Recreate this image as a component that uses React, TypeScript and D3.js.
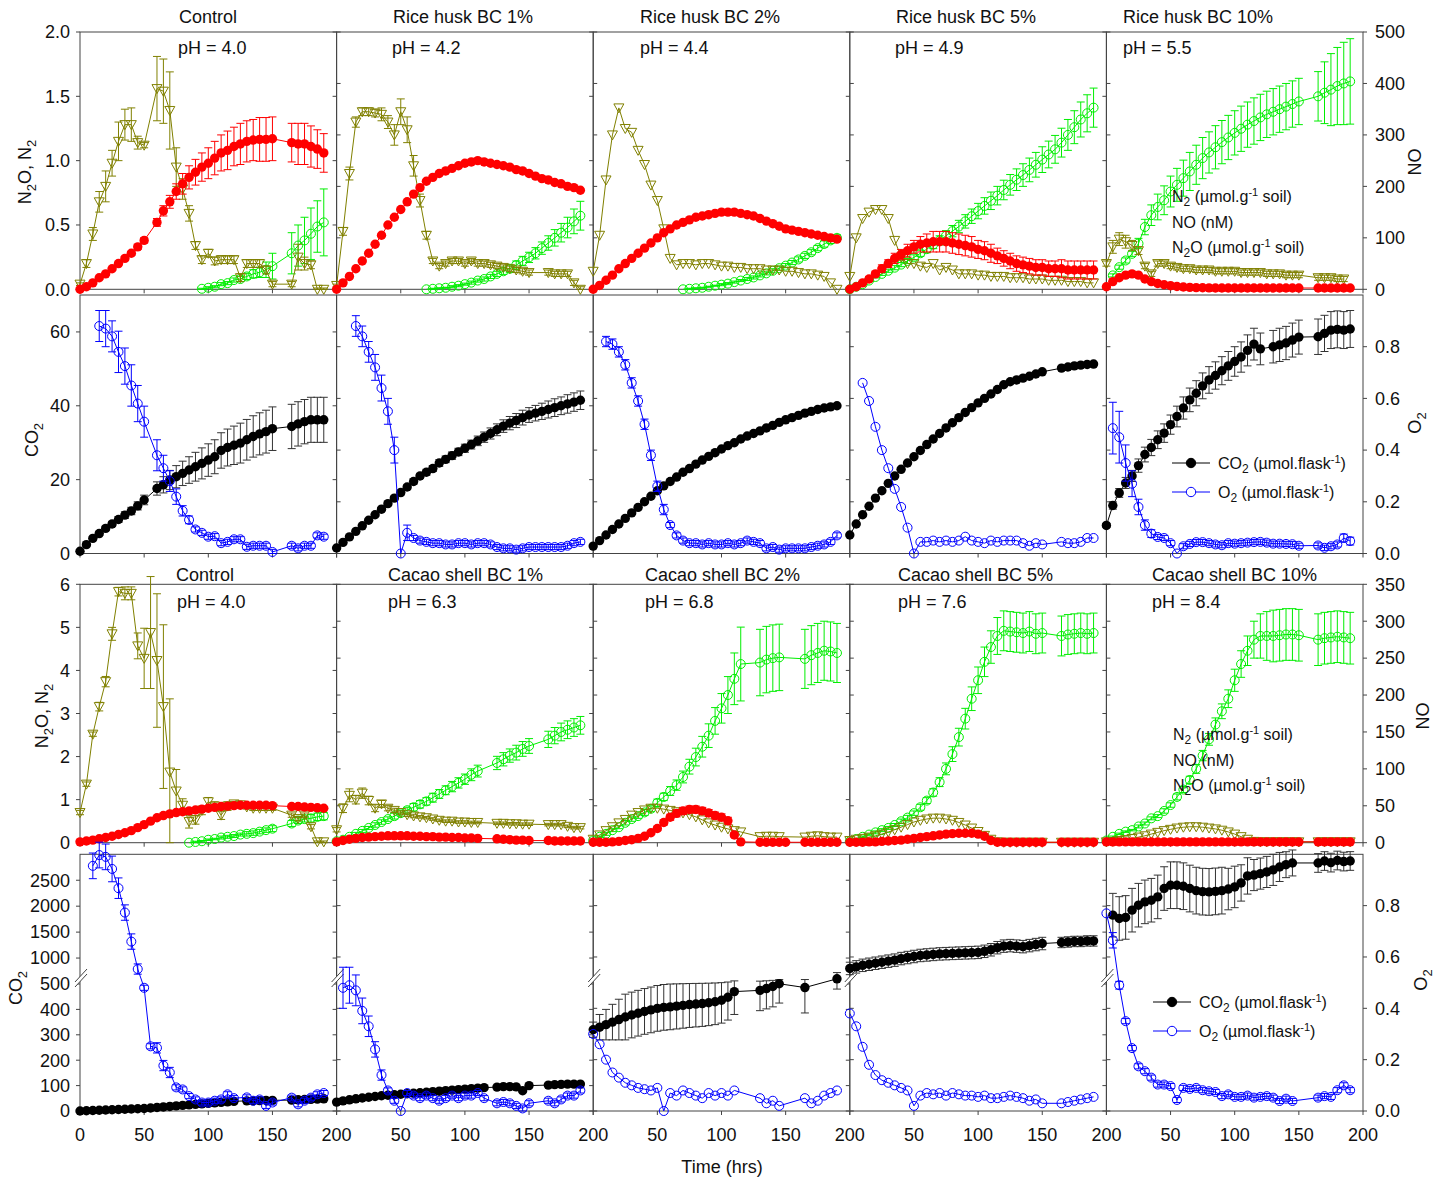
import * as d3 from "d3";

type V = number | null;
const n = null;

const hours = [0, 5, 10, 15, 20, 25, 30, 35, 40, 45, 50, 55, 60, 65, 70, 75, 80, 85, 90, 95, 100, 105, 110, 115, 120, 125, 130, 135, 140, 145, 150, 155, 160, 165, 170, 175, 180, 185, 190];

const riceTitles = ["Control", "Rice husk BC 1%", "Rice husk BC 2%", "Rice husk BC 5%", "Rice husk BC 10%"];
const ricePH = ["4.0", "4.2", "4.4", "4.9", "5.5"];
const cacaoTitles = ["Control", "Cacao shell BC 1%", "Cacao shell BC 2%", "Cacao shell BC 5%", "Cacao shell BC 10%"];
const cacaoPH = ["4.0", "6.3", "6.8", "7.6", "8.4"];

// ---- rice husk: N2 / N2O (umol g-1 soil), NO (nM)
const riceN2: V[][] = [
  [0, 0.02, 0.05, 0.09, 0.12, 0.16, 0.2, 0.24, 0.28, 0.33, 0.38, n, 0.52, 0.61, 0.68, 0.76, 0.82, 0.87, 0.91, 0.95, 0.98, 1.02, 1.06, 1.08, 1.11, 1.13, 1.15, 1.16, 1.165, 1.165, 1.17, n, n, 1.14, 1.13, 1.13, 1.11, 1.09, 1.06],
  [0, 0.05, 0.1, 0.16, 0.22, 0.28, 0.35, 0.42, 0.5, 0.56, 0.62, 0.68, 0.74, 0.79, 0.84, 0.87, 0.9, 0.92, 0.94, 0.96, 0.98, 0.99, 1.0, 0.99, 0.98, 0.97, 0.96, 0.95, 0.93, 0.92, 0.9, 0.88, 0.86, 0.85, 0.83, 0.82, 0.8, 0.79, 0.77],
  [0, 0.03, 0.07, 0.11, 0.16, 0.2, 0.24, 0.28, 0.32, 0.36, 0.4, 0.44, 0.47, 0.5, 0.52, 0.54, 0.56, 0.57, 0.58, 0.59, 0.6, 0.6, 0.6, 0.59, 0.58, 0.57, 0.55, 0.53, 0.51, 0.49, 0.47, 0.46, 0.45, 0.44, 0.43, 0.42, 0.41, 0.4, 0.39],
  [0, 0.02, 0.05, 0.08, 0.12, 0.16, 0.2, 0.24, 0.27, 0.3, 0.33, 0.35, 0.36, 0.37, 0.37, 0.37, 0.36, 0.35, 0.34, 0.33, 0.31, 0.3, 0.28, 0.26, 0.24, 0.22, 0.2, 0.19, 0.18, 0.17, 0.17, 0.16, 0.16, 0.16, 0.15, 0.15, 0.15, 0.15, 0.15],
  [0.02, 0.06, 0.09, 0.11, 0.12, 0.11, 0.08, 0.06, 0.045, 0.035, 0.028, 0.022, 0.018, 0.015, 0.013, 0.012, 0.011, 0.01, 0.01, 0.01, 0.01, 0.01, 0.01, 0.01, 0.01, 0.01, 0.01, 0.01, 0.01, 0.01, 0.01, n, n, 0.01, 0.01, 0.01, 0.01, 0.01, 0.01],
];
const riceN2Err: (V[] | null)[] = [
  [0.01, 0.01, 0.01, 0.01, 0.01, 0.01, 0.01, 0.015, 0.015, 0.02, 0.02, n, 0.03, 0.04, 0.05, 0.06, 0.08, 0.09, 0.1, 0.11, 0.12, 0.13, 0.14, 0.15, 0.15, 0.16, 0.16, 0.16, 0.17, 0.17, 0.17, n, n, 0.15, 0.16, 0.16, 0.16, 0.15, 0.15],
  null,
  null,
  [0, 0.01, 0.01, 0.02, 0.02, 0.03, 0.03, 0.04, 0.04, 0.05, 0.05, 0.06, 0.07, 0.08, 0.08, 0.08, 0.08, 0.08, 0.08, 0.08, 0.07, 0.07, 0.07, 0.06, 0.06, 0.06, 0.06, 0.06, 0.06, 0.06, 0.06, 0.06, 0.06, 0.07, 0.07, 0.07, 0.07, 0.07, 0.07],
  null,
];
const riceN2O: V[][] = [
  [0.04, 0.2, 0.43, 0.68, 0.8, 0.98, 1.15, 1.28, 1.28, 1.14, 1.12, n, 1.56, 1.54, 1.39, 0.95, 0.78, 0.59, 0.34, 0.23, 0.28, 0.22, 0.23, 0.23, 0.23, 0.09, 0.2, 0.2, 0.2, 0.15, 0.04, n, n, 0.04, 0.25, 0.2, 0.19, 0, 0],
  [0.03, 0.45, 0.9, 1.3, 1.38, 1.38, 1.37, 1.36, 1.3, 1.2, 1.38, 1.24, 0.96, 0.69, 0.42, 0.22, 0.18, 0.2, 0.22, 0.22, 0.2, 0.22, 0.2, 0.2, 0.19, 0.18, 0.17, 0.16, 0.15, 0.14, 0.13, n, n, 0.13, 0.12, 0.12, 0.12, 0.05, 0],
  [0.14, 0.42, 0.85, 1.2, 1.41, 1.25, 1.22, 1.08, 0.97, 0.81, 0.69, 0.47, 0.24, 0.19, 0.2, 0.2, 0.19, 0.2, 0.2, 0.19, 0.18, 0.18, 0.17, 0.17, 0.16, 0.16, 0.16, 0.15, 0.15, 0.15, 0.14, 0.14, 0.13, 0.12, 0.12, 0.11, 0.1, 0.05, 0],
  [0.1, 0.4, 0.55, 0.6, 0.62, 0.62, 0.55, 0.38, 0.25, 0.2, 0.2, 0.18, 0.17, 0.2, 0.15, 0.17, 0.15, 0.12, 0.12, 0.12, 0.11, 0.11, 0.1, 0.1, 0.1, 0.09, 0.09, 0.09, 0.08, 0.08, 0.08, 0.07, 0.07, 0.07, 0.06, 0.06, 0.06, 0.05, 0.05],
  [0.2, 0.33, 0.39, 0.37, 0.34, 0.3, 0.18, 0.12, 0.2, 0.2, 0.18, 0.17, 0.16, 0.16, 0.15, 0.15, 0.15, 0.14, 0.14, 0.14, 0.14, 0.13, 0.13, 0.13, 0.13, 0.12, 0.12, 0.12, 0.11, 0.11, 0.11, n, n, 0.09, 0.09, 0.09, 0.08, 0.08, n],
];
const riceN2OErr: (V[] | null)[] = [
  [0.01, 0.03, 0.05, 0.08, 0.12, 0.1, 0.15, 0.12, 0.13, 0.05, 0.02, n, 0.25, 0.25, 0.3, 0.15, 0.08, 0.06, 0.03, 0.03, 0.03, 0.03, 0.03, 0.03, 0.03, 0.03, 0.03, 0.03, 0.03, 0.03, 0.02, n, n, 0.02, 0.1, 0.05, 0.03, 0.01, 0.01],
  [0.01, 0.03, 0.05, 0.04, 0.03, 0.03, 0.03, 0.05, 0.05, 0.08, 0.1, 0.1, 0.08, 0.05, 0.03, 0.02, 0.02, 0.02, 0.02, 0.02, 0.02, 0.02, 0.02, 0.02, 0.02, 0.02, 0.02, 0.02, 0.02, 0.02, 0.02, n, n, 0.02, 0.02, 0.02, 0.02, 0.02, 0.02],
  null,
  null,
  [0.02, 0.05, 0.05, 0.05, 0.04, 0.03, 0.02, 0.02, 0.02, 0.02, 0.02, 0.02, 0.02, 0.02, 0.02, 0.02, 0.02, 0.02, 0.02, 0.02, 0.02, 0.02, 0.02, 0.02, 0.02, 0.02, 0.02, 0.02, 0.02, 0.02, 0.02, n, n, 0.02, 0.02, 0.02, 0.02, 0.02, n],
];
const riceNO: V[][] = [
  [n, n, n, n, n, n, n, n, n, n, n, n, n, n, n, n, n, n, n, 1, 3, 5, 10, 12, 18, 20, 25, 30, 33, 38, 45, n, n, 70, 85, 95, 108, 122, 130],
  [n, n, n, n, n, n, n, n, n, n, n, n, n, n, 0, 1, 2, 3, 5, 7, 10, 13, 17, 20, 25, 30, 35, 40, 47, 55, 62, 70, 80, 90, 100, 110, 120, 132, 143],
  [n, n, n, n, n, n, n, n, n, n, n, n, n, n, 0, 1, 2, 3, 5, 7, 9, 11, 14, 17, 20, 23, 27, 31, 36, 41, 46, 52, 58, 65, 72, 80, 88, 95, 100],
  [0, 5, 10, 17, 24, 30, 36, 42, 48, 55, 62, 70, 78, 87, 95, 104, 113, 122, 132, 142, 152, 162, 172, 182, 193, 203, 213, 222, 232, 242, 252, 262, 272, 285, 300, 315, 330, 342, 353],
  [n, 27, 43, 56, 69, 89, 121, 144, 160, 173, 190, 203, 216, 229, 242, 255, 266, 276, 286, 295, 304, 312, 320, 327, 334, 340, 345, 350, 355, 360, 365, n, n, 375, 382, 388, 395, 400, 404],
];
const riceNOErr: (V[] | null)[] = [
  [n, n, n, n, n, n, n, n, n, n, n, n, n, n, n, n, n, n, n, 1, 2, 2, 3, 3, 4, 5, 6, 8, 10, 15, 25, n, n, 40, 40, 45, 50, 50, 65],
  [n, n, n, n, n, n, n, n, n, n, n, n, n, n, 0, 1, 1, 1, 2, 2, 2, 3, 3, 4, 4, 5, 6, 7, 8, 9, 10, 11, 12, 14, 16, 18, 20, 24, 28],
  [n, n, n, n, n, n, n, n, n, n, n, n, n, n, 0, 1, 1, 1, 1, 1, 2, 2, 2, 2, 3, 3, 3, 3, 4, 4, 4, 4, 5, 5, 5, 5, 6, 6, 6],
  [0, 1, 1, 2, 2, 3, 3, 4, 4, 5, 5, 6, 7, 8, 9, 10, 11, 12, 13, 14, 15, 16, 17, 18, 19, 20, 21, 22, 23, 24, 25, 26, 27, 28, 30, 32, 34, 36, 38],
  [n, 3, 4, 5, 5, 10, 15, 20, 25, 28, 30, 32, 35, 37, 38, 40, 40, 42, 42, 43, 43, 44, 44, 45, 45, 45, 45, 45, 45, 45, 45, n, n, 48, 60, 70, 75, 80, 83],
];

// ---- rice husk: CO2 / O2 (umol flask-1)
const riceCO2: V[][] = [
  [0.6, 2.4, 4.1, 5.4, 6.8, 8, 9.2, 10.4, 11.5, 12.9, 14.5, n, 17.6, 18.6, 19.9, 20.8, 21.7, 22.6, 23.5, 24.4, 25.3, 26.2, 27.9, 28.7, 29.3, 29.9, 30.8, 31.7, 32.4, 33, 33.8, n, n, 34.4, 35.1, 35.7, 36.2, 36.2, 36.2],
  [1.5, 3, 4.5, 6, 7.5, 9, 10.5, 12, 13.5, 15, 16.5, 18, 19.5, 21, 22, 23, 24.5, 25.5, 26.5, 27.5, 28.5, 29.5, 30.5, 31.5, 32.5, 33.5, 34.5, 35.3, 36, 36.8, 37.5, 38, 38.5, 39, 39.5, 40, 40.5, 41, 41.5],
  [2, 3.5, 5, 6.5, 8, 9.5, 11, 12.5, 14, 15.5, 17, 18.3, 19.5, 20.7, 22, 23, 24.2, 25.3, 26.3, 27.3, 28.3, 29.2, 30, 31, 31.8, 32.5, 33.2, 34, 34.7, 35.5, 36.2, 36.8, 37.4, 38, 38.5, 39, 39.4, 39.7, 40],
  [5, 8, 10.5, 12.8, 15, 17, 19, 21, 22.8, 24.5, 26.2, 27.9, 29.5, 31, 32.5, 34, 35.4, 36.8, 38.2, 39.5, 40.8, 42, 43.2, 44.4, 45.7, 46.5, 47, 47.5, 48, 48.6, 49.2, n, n, 50.2, 50.5, 50.8, 51, 51.2, 51.3],
  [7.6, 13, 16.4, 19.1, 21, 23.8, 26.8, 28.7, 30.8, 32.6, 34.9, 37.1, 39.4, 41.6, 43.4, 45.4, 47, 48.2, 49.5, 50.8, 52, 53.2, 55, 56.7, 55.4, n, 56, 56.5, 57, 57.8, 58.6, n, n, 58.7, 59.6, 60.5, 60.7, 60.5, 60.8],
];
const riceCO2Err: (V[] | null)[] = [
  [0.2, 0.3, 0.4, 0.5, 0.6, 0.7, 0.8, 0.9, 1, 1.1, 1.3, n, 1.8, 2.2, 2.6, 3, 3.3, 3.6, 3.9, 4.2, 4.4, 4.6, 4.8, 5, 5.2, 5.4, 5.5, 5.6, 5.7, 5.8, 5.9, n, n, 6, 6, 6, 6.1, 6.1, 6.1],
  [0.1, 0.1, 0.2, 0.2, 0.3, 0.3, 0.4, 0.4, 0.5, 0.5, 0.6, 0.6, 0.7, 0.7, 0.8, 0.8, 0.9, 0.9, 1, 1, 1.1, 1.2, 1.3, 1.4, 1.5, 1.6, 1.7, 1.8, 1.9, 2, 2, 2.1, 2.2, 2.3, 2.4, 2.4, 2.5, 2.5, 2.5],
  null,
  null,
  [0.5, 1, 1.2, 1.5, 1.5, 1.8, 2, 2.2, 2.4, 2.5, 2.6, 2.8, 3, 3.2, 3.4, 3.5, 3.6, 3.7, 3.8, 3.9, 4, 4.1, 4.2, 4.3, 4.3, n, 4.4, 4.5, 4.5, 4.6, 4.6, n, n, 4.8, 4.9, 5, 5, 5, 5],
];
const riceO2: V[][] = [
  [n, n, n, 0.88, 0.87, 0.84, 0.78, 0.725, 0.65, 0.58, 0.51, n, 0.38, 0.33, 0.28, 0.22, 0.165, 0.13, 0.093, 0.08, 0.065, 0.067, 0.04, 0.045, 0.055, 0.055, 0.026, 0.03, 0.03, 0.03, 0.006, n, n, 0.03, 0.02, 0.03, 0.03, 0.07, 0.065],
  [n, n, n, 0.88, 0.84, 0.78, 0.72, 0.64, 0.55, 0.4, 0, 0.08, 0.06, 0.05, 0.045, 0.04, 0.04, 0.035, 0.035, 0.04, 0.04, 0.035, 0.04, 0.04, 0.035, 0.025, 0.02, 0.02, 0.015, 0.02, 0.025, 0.025, 0.025, 0.025, 0.025, 0.025, 0.03, 0.04, 0.045],
  [n, n, 0.82, 0.81, 0.78, 0.73, 0.66, 0.59, 0.5, 0.38, 0.26, 0.17, 0.11, 0.07, 0.05, 0.04, 0.04, 0.035, 0.04, 0.035, 0.035, 0.04, 0.035, 0.04, 0.05, 0.045, 0.04, 0.02, 0.025, 0.015, 0.02, 0.02, 0.02, 0.02, 0.025, 0.03, 0.035, 0.045, 0.07],
  [n, n, 0.66, 0.59, 0.49, 0.4, 0.33, 0.25, 0.18, 0.1, 0, 0.045, 0.045, 0.05, 0.045, 0.05, 0.045, 0.05, 0.065, 0.05, 0.045, 0.04, 0.05, 0.045, 0.05, 0.05, 0.05, 0.04, 0.03, 0.04, 0.035, n, n, 0.045, 0.04, 0.04, 0.045, 0.06, 0.06],
  [n, 0.485, 0.45, 0.35, 0.27, 0.18, 0.11, 0.077, 0.064, 0.06, 0.04, 0, 0.028, 0.037, 0.044, 0.044, 0.04, 0.035, 0.032, 0.04, 0.038, 0.04, 0.042, 0.044, 0.045, 0.042, 0.038, 0.038, 0.037, 0.036, 0.03, n, n, 0.031, 0.022, 0.028, 0.035, 0.06, 0.048],
];
const riceO2Err: (V[] | null)[] = [
  [n, n, n, 0.06, 0.07, 0.06, 0.08, 0.07, 0.08, 0.07, 0.06, n, 0.06, 0.05, 0.04, 0.03, 0.02, 0.015, 0.01, 0.01, 0.01, 0.01, 0.01, 0.01, 0.01, 0.01, 0.01, 0.01, 0.01, 0.01, 0.01, n, n, 0.01, 0.01, 0.01, 0.01, 0.01, 0.01],
  [n, n, n, 0.04, 0.04, 0.04, 0.05, 0.05, 0.05, 0.05, 0, 0.03, 0.01, 0.01, 0.01, 0.01, 0.01, 0.01, 0.01, 0.01, 0.01, 0.01, 0.01, 0.01, 0.01, 0.01, 0.01, 0.01, 0.01, 0.01, 0.01, 0.01, 0.01, 0.01, 0.01, 0.01, 0.01, 0.01, 0.01],
  [n, n, 0.02, 0.02, 0.02, 0.02, 0.02, 0.02, 0.02, 0.02, 0.02, 0.02, 0.01, 0.01, 0.01, 0.01, 0.01, 0.01, 0.01, 0.01, 0.01, 0.01, 0.01, 0.01, 0.01, 0.01, 0.01, 0.01, 0.01, 0.01, 0.01, 0.01, 0.01, 0.01, 0.01, 0.01, 0.01, 0.01, 0.01],
  null,
  [n, 0.1, 0.1, 0.07, 0.05, 0.03, 0.02, 0.015, 0.01, 0.01, 0.01, 0, 0.01, 0.01, 0.01, 0.01, 0.01, 0.01, 0.01, 0.01, 0.01, 0.01, 0.01, 0.01, 0.01, 0.01, 0.01, 0.01, 0.01, 0.01, 0.01, n, n, 0.01, 0.01, 0.01, 0.01, 0.015, 0.015],
];

// ---- cacao shell: N2 / N2O (umol g-1 soil), NO (nM)
const cacaoN2: V[][] = [
  [0.02, 0.04, 0.06, 0.09, 0.12, 0.15, 0.19, 0.23, 0.28, 0.35, 0.42, 0.5, 0.58, 0.63, 0.67, 0.7, 0.72, 0.74, 0.76, 0.78, 0.8, 0.82, 0.84, 0.85, 0.86, 0.87, 0.87, 0.87, 0.87, 0.87, 0.86, n, n, 0.84, 0.84, 0.83, 0.82, 0.81, 0.8],
  [0.02, 0.05, 0.08, 0.1, 0.12, 0.13, 0.14, 0.15, 0.16, 0.16, 0.16, 0.16, 0.15, 0.15, 0.14, 0.14, 0.13, 0.13, 0.12, 0.12, 0.11, 0.11, 0.1, n, n, 0.09, 0.08, 0.07, 0.06, 0.06, 0.05, n, n, 0.05, 0.04, 0.04, 0.04, 0.04, 0.04],
  [0.01, 0.01, 0.01, 0.02, 0.03, 0.05, 0.07, 0.1, 0.15, 0.23, 0.33, 0.47, 0.59, 0.68, 0.74, 0.77, 0.77, 0.74, 0.69, 0.63, 0.59, 0.51, 0.18, 0.02, n, n, 0.01, 0.01, 0.01, 0.01, 0.01, n, n, 0.01, 0.01, 0.01, 0.01, 0.01, 0.01],
  [0.01, 0.01, 0.01, 0.02, 0.02, 0.03, 0.04, 0.05, 0.06, 0.08, 0.1, 0.12, 0.14, 0.16, 0.18, 0.2, 0.21, 0.22, 0.22, 0.22, 0.2, 0.15, 0.05, 0.01, 0.01, 0.01, 0.01, 0.01, 0.01, 0.01, 0.01, n, n, 0.01, 0.01, 0.01, 0.01, 0.01, 0.01],
  [0.02, 0.02, 0.02, 0.02, 0.02, 0.02, 0.02, 0.02, 0.02, 0.02, 0.02, 0.02, 0.02, 0.02, 0.02, 0.02, 0.02, 0.02, 0.02, 0.02, 0.02, 0.02, 0.02, 0.02, 0.02, 0.02, 0.02, 0.02, 0.02, 0.02, 0.02, n, n, 0.02, 0.02, 0.02, 0.02, 0.02, 0.02],
];
const cacaoN2Err: (V[] | null)[] = [
  null,
  null,
  [0, 0, 0, 0, 0.01, 0.01, 0.02, 0.02, 0.03, 0.04, 0.05, 0.06, 0.07, 0.08, 0.08, 0.08, 0.08, 0.08, 0.08, 0.08, 0.08, 0.08, 0.05, 0.01, n, n, 0, 0, 0, 0, 0, n, n, 0, 0, 0, 0, 0, 0],
  [0, 0, 0, 0, 0, 0, 0, 0, 0.01, 0.01, 0.01, 0.01, 0.02, 0.02, 0.02, 0.02, 0.03, 0.03, 0.03, 0.03, 0.03, 0.02, 0.01, 0, 0, 0, 0, 0, 0, 0, 0, n, n, 0, 0, 0, 0, 0, 0],
  null,
];
const cacaoN2O: V[][] = [
  [0.7, 1.36, 2.52, 3.16, 3.74, 4.85, 5.83, 5.79, 5.79, 4.57, 4.28, 4.88, 4.23, 3.16, 1.64, 1.2, 0.87, 0.49, 0.53, 0.75, 0.95, 0.85, 0.64, 0.85, 0.9, 0.88, 0.83, 0.8, 0.8, 0.8, 0.8, n, n, 0.64, 0.56, 0.64, 0.37, 0.02, 0.02],
  [0.3, 0.8, 1.1, 1.0, 1.15, 0.98, 0.8, 0.9, 0.8, 0.75, 0.7, 0.65, 0.62, 0.6, 0.58, 0.55, 0.52, 0.5, 0.5, 0.48, 0.48, 0.47, 0.47, n, n, 0.45, 0.45, 0.44, 0.44, 0.43, 0.43, n, n, 0.42, 0.42, 0.42, 0.38, 0.35, 0.35],
  [0.08, 0.18, 0.28, 0.37, 0.46, 0.54, 0.64, 0.7, 0.76, 0.8, 0.8, 0.78, 0.75, 0.72, 0.69, 0.65, 0.6, 0.53, 0.46, 0.41, 0.36, 0.32, 0.28, 0.25, n, n, 0.14, 0.15, 0.15, 0.14, n, n, n, 0.13, 0.15, 0.16, 0.14, 0.13, 0.13],
  [0.05, 0.08, 0.1, 0.13, 0.16, 0.2, 0.25, 0.3, 0.36, 0.42, 0.48, 0.52, 0.55, 0.57, 0.57, 0.55, 0.52, 0.47, 0.41, 0.34, 0.26, 0.17, 0.08, 0.02, 0.01, 0.01, 0.01, 0.01, 0.01, 0.01, 0.01, n, n, 0.01, 0.01, 0.01, 0.01, 0.01, 0.01],
  [0.02, 0.03, 0.05, 0.07, 0.1, 0.13, 0.16, 0.2, 0.24, 0.28, 0.31, 0.34, 0.36, 0.37, 0.37, 0.36, 0.34, 0.32, 0.29, 0.25, 0.2, 0.14, 0.08, 0.03, 0.02, 0.02, 0.02, 0.02, 0.02, 0.02, 0.02, n, n, 0.02, 0.02, 0.02, 0.02, 0.02, 0.02],
];
const cacaoN2OErr: (V[] | null)[] = [
  [0.05, 0.05, 0.05, 0.1, 0.12, 0.15, 0.1, 0.15, 0.15, 0.3, 0.7, 1.3, 1.55, 1.9, 1.7, 0.5, 0.15, 0.15, 0.1, 0.1, 0.1, 0.1, 0.1, 0.1, 0.05, 0.05, 0.05, 0.05, 0.05, 0.05, 0.05, n, n, 0.05, 0.05, 0.05, 0.05, 0.02, 0.02],
  [0.05, 0.1, 0.15, 0.1, 0.12, 0.1, 0.08, 0.08, 0.06, 0.05, 0.04, 0.04, 0.04, 0.03, 0.03, 0.03, 0.03, 0.03, 0.03, 0.03, 0.03, 0.03, 0.03, n, n, 0.03, 0.03, 0.03, 0.03, 0.03, 0.03, n, n, 0.03, 0.03, 0.03, 0.03, 0.03, 0.03],
  null,
  null,
  null,
];
const cacaoNO: V[][] = [
  [n, n, n, n, n, n, n, n, n, n, n, n, n, n, n, n, n, 0, 1, 2, 4, 5, 7, 8, 9, 11, 12, 13, 15, 17, 19, n, n, 26, 30, 32, 33, 35, 36],
  [2, 4, 8, 12, 16, 20, 24, 28, 32, 36, 40, 44, 48, 52, 56, 61, 66, 71, 76, 81, 86, 92, 97, n, n, 108, 113, 118, 122, 127, 131, n, n, 140, 145, 150, 153, 156, 159],
  [3, 8, 12, 17, 21, 27, 32, 36, 41, 46, 54, 62, 70, 78, 89, 103, 116, 130, 145, 165, 182, 200, 222, 242, n, n, 244, 248, 250, 251, n, n, n, 249, 254, 257, 260, 259, 257],
  [2, 5, 8, 11, 14, 17, 20, 24, 29, 34, 40, 48, 57, 68, 82, 100, 120, 143, 168, 195, 220, 245, 265, 280, 287, 286, 285, 284, 286, 283, 284, n, n, 280, 282, 283, 284, 283, 284],
  [3, 8, 12, 15, 17, 22, 26, 33, 36, 43, 51, 62, 72, 85, 100, 118, 140, 160, 178, 195, 220, 242, 260, 275, 280, 280, 280, 281, 282, 282, 281, n, n, 275, 277, 278, 279, 278, 277],
];
const cacaoNOErr: (V[] | null)[] = [
  [n, n, n, n, n, n, n, n, n, n, n, n, n, n, n, n, n, 0, 1, 1, 1, 1, 2, 2, 2, 2, 3, 3, 3, 3, 4, n, n, 4, 4, 4, 5, 5, 5],
  [1, 1, 1, 2, 2, 2, 3, 3, 3, 4, 4, 4, 5, 5, 5, 6, 6, 6, 7, 7, 7, 8, 8, n, n, 9, 9, 9, 10, 10, 10, n, n, 11, 11, 12, 12, 12, 12],
  [1, 1, 2, 2, 2, 3, 3, 3, 4, 4, 5, 5, 6, 7, 8, 10, 12, 14, 16, 18, 20, 25, 35, 50, n, n, 45, 45, 45, 45, n, n, n, 40, 40, 40, 40, 40, 40],
  [1, 1, 1, 1, 2, 2, 2, 2, 3, 3, 3, 4, 4, 5, 6, 8, 10, 12, 14, 16, 18, 20, 22, 25, 27, 27, 27, 27, 27, 27, 27, n, n, 27, 27, 27, 27, 27, 27],
  [1, 1, 1, 1, 1, 2, 2, 2, 2, 3, 3, 4, 4, 5, 6, 7, 8, 9, 10, 12, 15, 18, 20, 25, 30, 33, 35, 35, 35, 35, 35, n, n, 35, 35, 35, 35, 35, 35],
];

// ---- cacao shell: CO2 / O2 (umol flask-1)
const cacaoCO2: V[][] = [
  [0, 1, 2, 3, 4, 5, 6, 7, 8, 9, 10, 12, 14, 16, 18, 20, 22, 24, 26, 28, 30, 32, 34, 36, 38, n, 40, 40, 41, 42, 42, n, n, 43, 44, 45, 46, 47, 48],
  [35, 40, 44, 48, 51, 54, 57, 60, 62, 64, 66, 68, 70, 72, 74, 76, 78, 80, 82, 84, 86, 88, 90, 92, n, 94, 96, 96, 95, 80, 100, n, n, 102, 104, 105, 106, 106, 106],
  [320, 330, 340, 350, 360, 370, 378, 385, 392, 398, 404, 408, 410, 413, 416, 419, 421, 423, 426, 430, 436, 448, 470, n, n, n, 475, 482, 490, 505, n, n, n, 486, n, n, n, n, 600],
  [800, 830, 860, 880, 900, 920, 940, 960, 990, 1010, 1030, 1050, 1060, 1070, 1080, 1085, 1090, 1095, 1100, 1105, 1110, 1130, 1160, 1200, 1230, 1240, 1230, 1220, 1240, 1260, 1280, n, n, 1300, 1310, 1320, 1320, 1330, 1330],
  [n, 1827, 1763, 1783, 1923, 2019, 2083, 2115, 2179, 2340, 2404, 2404, 2385, 2340, 2300, 2280, 2275, 2285, 2300, 2330, 2371, 2448, 2583, 2600, 2628, 2660, 2700, 2756, 2800, 2833, n, n, n, 2833, 2870, 2840, 2880, 2860, 2871],
];
const cacaoCO2Err: (V[] | null)[] = [
  null,
  null,
  [30, 50, 60, 70, 80, 90, 90, 90, 90, 90, 90, 90, 90, 90, 90, 90, 90, 90, 90, 90, 90, 90, 90, n, n, n, 80, 80, 80, 80, n, n, n, 100, n, n, n, n, 120],
  [120, 120, 120, 120, 120, 120, 120, 120, 120, 120, 120, 120, 120, 120, 120, 120, 120, 120, 120, 120, 120, 120, 120, 120, 120, 120, 120, 120, 120, 120, 120, n, n, 100, 100, 100, 100, 100, 100],
  [n, 420, 420, 420, 420, 420, 420, 420, 420, 420, 450, 450, 450, 450, 450, 450, 450, 450, 450, 400, 400, 350, 350, 300, 300, 300, 300, 280, 250, 250, n, n, n, 180, 180, 180, 180, 180, 180],
];
const cacaoO2: V[][] = [
  [n, n, 0.955, 0.997, 0.99, 0.943, 0.868, 0.773, 0.66, 0.553, 0.48, 0.252, 0.246, 0.177, 0.15, 0.092, 0.084, 0.058, 0.045, 0.033, 0.033, 0.04, 0.045, 0.065, 0.05, n, 0.053, 0.04, 0.045, 0.02, 0.033, n, n, 0.052, 0.026, 0.04, 0.052, 0.065, 0.07],
  [n, 0.48, 0.49, 0.47, 0.39, 0.33, 0.24, 0.14, 0.08, 0.04, 0, 0.07, 0.06, 0.05, 0.06, 0.05, 0.04, 0.05, 0.06, 0.05, 0.06, 0.06, 0.07, 0.05, n, 0.03, 0.035, 0.03, 0.02, 0.01, 0.03, n, n, 0.04, 0.03, 0.045, 0.06, 0.06, 0.08],
  [0.3, 0.26, 0.2, 0.15, 0.13, 0.11, 0.1, 0.09, 0.085, 0.08, 0.09, 0, 0.07, 0.06, 0.08, 0.07, 0.06, 0.05, 0.07, 0.06, 0.07, 0.06, 0.08, n, n, n, 0.05, 0.03, 0.04, 0.02, n, n, n, 0.05, 0.03, 0.04, 0.06, 0.07, 0.08],
  [0.38, 0.33, 0.25, 0.18, 0.14, 0.12, 0.11, 0.1, 0.09, 0.08, 0.02, 0.06, 0.07, 0.065, 0.07, 0.06, 0.07, 0.065, 0.06, 0.06, 0.055, 0.06, 0.05, 0.05, 0.055, 0.06, 0.055, 0.05, 0.04, 0.045, 0.03, n, n, 0.03, 0.035, 0.04, 0.045, 0.05, 0.055],
  [0.77, 0.665, 0.49, 0.35, 0.245, 0.174, 0.155, 0.13, 0.103, 0.103, 0.097, 0.043, 0.09, 0.086, 0.09, 0.081, 0.077, 0.074, 0.058, 0.065, 0.055, 0.055, 0.06, 0.052, 0.055, 0.058, 0.052, 0.039, 0.048, 0.039, n, n, n, 0.052, 0.058, 0.055, 0.081, 0.1, 0.081],
];
const cacaoO2Err: (V[] | null)[] = [
  [n, n, 0.05, 0.05, 0.05, 0.05, 0.04, 0.03, 0.03, 0.02, 0.01, 0.01, 0.02, 0.02, 0.02, 0.01, 0.01, 0.01, 0.01, 0.01, 0.01, 0.01, 0.01, 0.01, 0.01, n, 0.01, 0.01, 0.01, 0.01, 0.01, n, n, 0.01, 0.01, 0.01, 0.01, 0.01, 0.01],
  [n, 0.08, 0.07, 0.06, 0.05, 0.04, 0.03, 0.02, 0.01, 0.01, 0, 0.01, 0.01, 0.01, 0.01, 0.01, 0.01, 0.01, 0.01, 0.01, 0.01, 0.01, 0.01, 0.01, n, 0.01, 0.01, 0.01, 0.01, 0.01, 0.01, n, n, 0.01, 0.01, 0.01, 0.01, 0.01, 0.01],
  null,
  null,
  [n, 0.03, 0.015, 0.01, 0.01, 0.01, 0.01, 0.01, 0.01, 0.01, 0.01, 0.01, 0.01, 0.01, 0.01, 0.01, 0.01, 0.01, 0.01, 0.01, 0.01, 0.01, 0.01, 0.01, 0.01, 0.01, 0.01, 0.01, 0.01, 0.01, n, n, n, 0.01, 0.01, 0.01, 0.01, 0.01, 0.01],
];

// ---- layout
const FONT = "Arial, 'Liberation Sans', Helvetica, sans-serif";
const PW = 256.6;
const PX = [80, 336.6, 593.2, 849.8, 1106.4];
const xTicks = [0, 50, 100, 150, 200];
const FRAME = "#444";
const COL = { n2: "#ff0000", no: "#00ee00", n2o: "#808000", co2: "#000000", o2: "#0000ff" };

const rowBox = [
  { top: 32, bottom: 289.3 },
  { top: 295, bottom: 553.5 },
  { top: 584.3, bottom: 842.7 },
  { top: 854.3, bottom: 1111 },
];
const yLeft = [
  d3.scaleLinear().domain([0, 2]).range([289.3, 32]),
  d3.scaleLinear().domain([0, 70]).range([553.5, 295]),
  d3.scaleLinear().domain([0, 6]).range([842.7, 584.3]),
  d3.scaleLinear().domain([0, 500, 3000]).range([1111, 984, 854.3]),
];
const yRight = [
  d3.scaleLinear().domain([0, 500]).range([289.3, 32]),
  d3.scaleLinear().domain([0, 1]).range([553.5, 295]),
  d3.scaleLinear().domain([0, 350]).range([842.7, 584.3]),
  d3.scaleLinear().domain([0, 1]).range([1111, 854.3]),
];
const leftTicks = [[0, 0.5, 1, 1.5, 2], [0, 20, 40, 60], [0, 1, 2, 3, 4, 5, 6], [0, 100, 200, 300, 400, 500, 1000, 1500, 2000, 2500]];
const rightTicks = [[0, 100, 200, 300, 400, 500], [0, 0.2, 0.4, 0.6, 0.8], [0, 50, 100, 150, 200, 250, 300, 350], [0, 0.2, 0.4, 0.6, 0.8]];
const leftFmt = [d3.format(".1f"), d3.format("d"), d3.format("d"), d3.format("d")];
const rightFmt = [d3.format("d"), d3.format(".1f"), d3.format("d"), d3.format(".1f")];

type Scale = (v: number) => number;

function Series(props: { x: Scale; y: Scale; vals: V[]; errs?: V[] | null; color: string; errColor?: string; shape: "dot" | "ring" | "tri" }) {
  const { x, y, vals, errs, color, shape } = props;
  const errColor = props.errColor ?? color;
  const pts = hours
    .map((t, i) => ({ t, v: vals[i], e: errs ? errs[i] : null }))
    .filter((p) => p.v != null) as { t: number; v: number; e: V }[];
  const line = d3.line<{ t: number; v: number }>().x((p) => x(p.t)).y((p) => y(p.v));
  return (
    <g>
      <path d={line(pts) ?? ""} fill="none" stroke={color} strokeWidth={1} />
      {pts
        .filter((p) => p.e != null && (p.e as number) > 0)
        .map((p, i) => {
          const cx = x(p.t);
          const e = p.e as number;
          const y0 = y(Math.max(0, p.v - e));
          const y1 = y(p.v + e);
          return (
            <g key={"e" + i} stroke={errColor} strokeWidth={1}>
              <line x1={cx} x2={cx} y1={y0} y2={y1} />
              <line x1={cx - 4} x2={cx + 4} y1={y0} y2={y0} />
              <line x1={cx - 4} x2={cx + 4} y1={y1} y2={y1} />
            </g>
          );
        })}
      {pts.map((p, i) => {
        const cx = x(p.t);
        const cy = y(p.v);
        if (shape === "dot") return <circle key={i} cx={cx} cy={cy} r={4.7} fill={color} />;
        if (shape === "ring") return <circle key={i} cx={cx} cy={cy} r={4.5} fill="none" stroke={color} strokeWidth={1} />;
        return <path key={i} d={`M${cx - 5},${cy - 4}L${cx + 5},${cy - 4}L${cx},${cy + 5}Z`} fill="none" stroke={color} strokeWidth={1} />;
      })}
    </g>
  );
}

function Frame({ row, col }: { row: number; col: number }) {
  const { top, bottom } = rowBox[row];
  const x0 = PX[col];
  const x = d3.scaleLinear().domain([0, 200]).range([x0, x0 + PW]);
  const yl = yLeft[row];
  const yr = yRight[row];
  const isBottom = row === 3;
  return (
    <g>
      <rect x={x0} y={top} width={PW} height={bottom - top} fill="none" stroke={FRAME} strokeWidth={1} />
      {leftTicks[row].map((v) => (
        <line key={"l" + v} x1={x0 - 4} x2={x0} y1={yl(v)} y2={yl(v)} stroke={FRAME} />
      ))}
      {rightTicks[row].map((v) => (
        <line key={"r" + v} x1={x0 + PW} x2={x0 + PW + 4} y1={yr(v)} y2={yr(v)} stroke={FRAME} />
      ))}
      {xTicks.map((t) => (
        <line key={"x" + t} x1={x(t)} x2={x(t)} y1={bottom} y2={bottom + 4} stroke={FRAME} />
      ))}
      {col === 0 &&
        leftTicks[row].map((v) => (
          <text key={"lt" + v} x={70} y={yl(v)} dy="0.35em" textAnchor="end" fontSize={18}>
            {leftFmt[row](v)}
          </text>
        ))}
      {col === 4 &&
        rightTicks[row].map((v) => (
          <text key={"rt" + v} x={1375} y={yr(v)} dy="0.35em" textAnchor="start" fontSize={18}>
            {rightFmt[row](v)}
          </text>
        ))}
      {isBottom &&
        (col === 0 ? xTicks : xTicks.slice(1)).map((t) => (
          <text key={"xt" + t} x={x(t)} y={1141} textAnchor="middle" fontSize={18}>
            {t}
          </text>
        ))}
      {isBottom && (
        <g transform={`translate(${x0 + 1},978)`}>
          <polygon points="-6,4 6,-9 6,-4 -6,9" fill="white" />
          <line x1={-6} y1={4} x2={6} y2={-9} stroke={FRAME} />
          <line x1={-6} y1={9} x2={6} y2={-4} stroke={FRAME} />
        </g>
      )}
    </g>
  );
}

function NitrogenPanel({ row, col, n2, n2Err, n2o, n2oErr, no, noErr }: { row: number; col: number; n2: V[]; n2Err: V[] | null; n2o: V[]; n2oErr: V[] | null; no: V[]; noErr: V[] | null }) {
  const x = d3.scaleLinear().domain([0, 200]).range([PX[col], PX[col] + PW]);
  return (
    <g>
      <Series x={x} y={yRight[row]} vals={no} errs={noErr} color={COL.no} shape="ring" />
      <Series x={x} y={yLeft[row]} vals={n2o} errs={n2oErr} color={COL.n2o} shape="tri" />
      <Series x={x} y={yLeft[row]} vals={n2} errs={n2Err} color={COL.n2} shape="dot" />
    </g>
  );
}

function GasPanel({ row, col, co2, co2Err, o2, o2Err }: { row: number; col: number; co2: V[]; co2Err: V[] | null; o2: V[]; o2Err: V[] | null }) {
  const x = d3.scaleLinear().domain([0, 200]).range([PX[col], PX[col] + PW]);
  return (
    <g>
      <Series x={x} y={yLeft[row]} vals={co2} errs={co2Err} color={COL.co2} errColor="#333" shape="dot" />
      <Series x={x} y={yRight[row]} vals={o2} errs={o2Err} color={COL.o2} shape="ring" />
    </g>
  );
}

function NLegend({ x, y }: { x: number; y: number }) {
  return (
    <g fontSize={16}>
      <text x={x} y={y}>
        N<tspan dy={4} fontSize={12}>2</tspan>
        <tspan dy={-4}> (µmol.g</tspan>
        <tspan dy={-6} fontSize={11}>-1</tspan>
        <tspan dy={6}> soil)</tspan>
      </text>
      <text x={x} y={y + 25.5}>NO (nM)</text>
      <text x={x} y={y + 51}>
        N<tspan dy={4} fontSize={12}>2</tspan>
        <tspan dy={-4}>O (µmol.g</tspan>
        <tspan dy={-6} fontSize={11}>-1</tspan>
        <tspan dy={6}> soil)</tspan>
      </text>
    </g>
  );
}

function GasLegend({ x, y }: { x: number; y: number }) {
  const items = [
    { label: "CO", color: COL.co2, filled: true, dy: 0 },
    { label: "O", color: COL.o2, filled: false, dy: 29 },
  ];
  return (
    <g fontSize={16}>
      {items.map((it) => (
        <g key={it.label}>
          <line x1={x} x2={x + 38} y1={y + it.dy} y2={y + it.dy} stroke={it.color} />
          <circle cx={x + 19} cy={y + it.dy} r={4.7} fill={it.filled ? it.color : "white"} stroke={it.color} />
          <text x={x + 46} y={y + it.dy + 6}>
            {it.label}
            <tspan dy={4} fontSize={12}>2</tspan>
            <tspan dy={-4}> (µmol.flask</tspan>
            <tspan dy={-6} fontSize={11}>-1</tspan>
            <tspan dy={6}>)</tspan>
          </text>
        </g>
      ))}
    </g>
  );
}

function N2OTitle({ x, y }: { x: number; y: number }) {
  return (
    <text transform={`translate(${x},${y}) rotate(-90)`} textAnchor="middle" fontSize={18}>
      N<tspan dy={5} fontSize={13}>2</tspan>
      <tspan dy={-5}>O, N</tspan>
      <tspan dy={5} fontSize={13}>2</tspan>
    </text>
  );
}

function SubTitle({ x, y, base }: { x: number; y: number; base: string }) {
  return (
    <text transform={`translate(${x},${y}) rotate(-90)`} textAnchor="middle" fontSize={18}>
      {base}
      <tspan dy={5} fontSize={13}>2</tspan>
    </text>
  );
}

const riceTitleX = [179, 393, 640, 896, 1123];
const cacaoTitleX = [176, 388, 645, 898, 1152];
const ricePhX = [178, 392, 640, 895, 1123];
const cacaoPhX = [177, 388, 645, 898, 1152];
const cols = [0, 1, 2, 3, 4];

export default function App() {
  return (
    <svg width={1440} height={1177} style={{ position: "absolute", left: 0, top: 0, background: "white" }} fontFamily={FONT} fill="#111">
      <rect x={0} y={0} width={1440} height={1177} fill="white" />
      {[0, 1, 2, 3].map((r) => cols.map((c) => <Frame key={`f${r}${c}`} row={r} col={c} />))}

      {cols.map((c) => (
        <NitrogenPanel key={"rn" + c} row={0} col={c} n2={riceN2[c]} n2Err={riceN2Err[c]} n2o={riceN2O[c]} n2oErr={riceN2OErr[c]} no={riceNO[c]} noErr={riceNOErr[c]} />
      ))}
      {cols.map((c) => (
        <GasPanel key={"rg" + c} row={1} col={c} co2={riceCO2[c]} co2Err={riceCO2Err[c]} o2={riceO2[c]} o2Err={riceO2Err[c]} />
      ))}
      {cols.map((c) => (
        <NitrogenPanel key={"cn" + c} row={2} col={c} n2={cacaoN2[c]} n2Err={cacaoN2Err[c]} n2o={cacaoN2O[c]} n2oErr={cacaoN2OErr[c]} no={cacaoNO[c]} noErr={cacaoNOErr[c]} />
      ))}
      {cols.map((c) => (
        <GasPanel key={"cg" + c} row={3} col={c} co2={cacaoCO2[c]} co2Err={cacaoCO2Err[c]} o2={cacaoO2[c]} o2Err={cacaoO2Err[c]} />
      ))}

      {cols.map((c) => (
        <g key={"t" + c} fontSize={18}>
          <text x={riceTitleX[c]} y={23}>{riceTitles[c]}</text>
          <text x={ricePhX[c]} y={54}>pH = {ricePH[c]}</text>
          <text x={cacaoTitleX[c]} y={581}>{cacaoTitles[c]}</text>
          <text x={cacaoPhX[c]} y={608}>pH = {cacaoPH[c]}</text>
        </g>
      ))}

      <NLegend x={1172} y={202} />
      <NLegend x={1173} y={740} />
      <GasLegend x={1172} y={463} />
      <GasLegend x={1153} y={1002} />

      <N2OTitle x={31} y={172} />
      <SubTitle x={38} y={440} base="CO" />
      <N2OTitle x={48} y={716} />
      <SubTitle x={22} y={988} base="CO" />
      <text transform="translate(1421,162) rotate(-90)" textAnchor="middle" fontSize={18}>NO</text>
      <SubTitle x={1421} y={423} base="O" />
      <text transform="translate(1429,716) rotate(-90)" textAnchor="middle" fontSize={18}>NO</text>
      <SubTitle x={1427} y={980} base="O" />

      <text x={722} y={1173} textAnchor="middle" fontSize={18}>Time (hrs)</text>
    </svg>
  );
}
